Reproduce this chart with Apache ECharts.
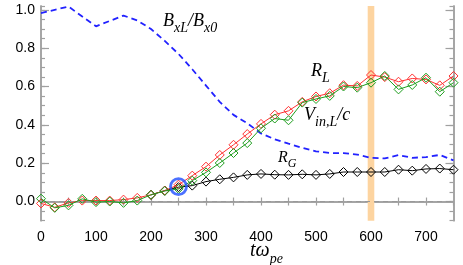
<!DOCTYPE html>
<html><head><meta charset="utf-8">
<script src="https://cdn.jsdelivr.net/npm/echarts@6/dist/echarts.min.js"></script>
<style>html,body{margin:0;padding:0;background:#fff}#c{width:463px;height:265px}</style>
</head><body><div id="c"></div>
<script>
// ---- data ----
const times = [0,25,50,75,100,125,150,175,200,225,250,275,300,325,350,375,400,425,450,475,500,525,550,575,600,625,650,675,700,725,750];
const rL  = [-0.01,-0.03,-0.007,0.005,0.005,0.005,0.01,0.019,0.035,0.057,0.088,0.135,0.182,0.243,0.296,0.352,0.405,0.453,0.473,0.52,0.548,0.565,0.607,0.603,0.66,0.649,0.625,0.642,0.637,0.606,0.655];
const vIn = [0.015,-0.033,-0.02,0.014,-0.003,0.0,-0.007,0.005,0.035,0.055,0.066,0.109,0.152,0.201,0.253,0.305,0.382,0.433,0.424,0.516,0.535,0.551,0.6,0.594,0.62,0.655,0.585,0.608,0.646,0.573,0.62];
const rGTimes = [200,225,250,275,300,325,350,375,400,425,450,475,500,525,550,575,600,625,650,675,700,725,750];
const rG  = [0.035,0.057,0.075,0.083,0.104,0.116,0.126,0.139,0.144,0.14,0.139,0.142,0.139,0.144,0.154,0.154,0.154,0.154,0.166,0.161,0.17,0.172,0.166];
const bx  = [0.983,1.0,1.017,0.965,0.914,0.942,0.97,0.945,0.9,0.838,0.77,0.69,0.605,0.52,0.452,0.408,0.355,0.325,0.302,0.28,0.262,0.253,0.253,0.245,0.228,0.225,0.242,0.228,0.232,0.243,0.215];
const circlePoint = [250, 0.078];
const band = [594, 606];
const yMajorTicks = [0, 0.2, 0.4, 0.6, 0.8, 1.0];
const xRange = [0, 750];
const yRange = [-0.1, 1.02];

const pair = (xs, ys) => xs.map((x, i) => [x, ys[i]]);

const GRAY = '#a0a0a0';
const tickFont = "'Liberation Sans Narrow','Arial Narrow','Liberation Sans',sans-serif";
const serif = "'Liberation Serif','DejaVu Serif',serif";

function yAx(pos, showLabel, major) {
  const a = {
    type: 'value', position: pos, min: yRange[0], max: yRange[1],
    axisLine: { show: true, lineStyle: { color: GRAY, width: 1.5 } },
    splitLine: { show: false },
    axisTick: { inside: true, length: 4, lineStyle: { color: GRAY, width: 1.2 } },
    axisLabel: { show: false }
  };
  if (major) {
    a.axisTick = { inside: true, length: 8, customValues: yMajorTicks, lineStyle: { color: GRAY, width: 1.2 } };
    a.axisLabel = showLabel ? { show: true, customValues: yMajorTicks, color: '#000', fontFamily: tickFont, fontSize: 14, margin: 6,
      formatter: v => v.toFixed(1) } : { show: false };
  } else {
    a.interval = 0.05;
  }
  return a;
}
function xAx(pos, showLabel) {
  return {
    type: 'value', position: pos, min: xRange[0], max: xRange[1], interval: 50,
    axisLine: { show: true, lineStyle: { color: GRAY, width: 1.5 } },
    splitLine: { show: false },
    axisTick: { inside: true, length: 4, lineStyle: { color: GRAY, width: 1.2 } },
    axisLabel: showLabel ? { show: true, color: '#000', fontFamily: tickFont, fontSize: 14, margin: 9,
      showMaxLabel: false,
      formatter: v => (Math.round(v) % 100 === 0 ? String(Math.round(v)) : '') } : { show: false }
  };
}

function drop(S, s) { return Math.round(0.25 * S - 0.2 * (S - s)) + 1; }
function rich(color, S, s) {
  const d = drop(S, s);
  return {
    m: { fontFamily: serif, fontStyle: 'italic', fontSize: S, color: color, verticalAlign: 'bottom', lineHeight: S, padding: [0, 0, d, 0] },
    s: { fontFamily: serif, fontStyle: 'italic', fontSize: s, color: color, verticalAlign: 'bottom', lineHeight: s }
  };
}
function label(x, yCenter, text, color, S, s) {
  return { type: 'text', left: x, top: yCenter - S / 2, z: 100, style: { text: text, rich: rich(color, S, s) } };
}

const chart = echarts.init(document.getElementById('c'), null, { renderer: 'canvas' });
chart.setOption({
  animation: false,
  backgroundColor: '#fff',
  grid: { left: 41, right: 9.5, top: 6, bottom: 44.3, containLabel: false },
  xAxis: [xAx('bottom', true), xAx('top', false)],
  yAxis: [yAx('left', true, true), yAx('left', false, false), yAx('right', false, true), yAx('right', false, false)],
  series: [
    {
      name: 'Bx', type: 'line', data: pair(times, bx), showSymbol: false, symbol: 'none',
      lineStyle: { color: '#2222ff', width: 1.8, type: [6, 4] }, z: 2,
      markArea: { silent: true, itemStyle: { color: '#fdd4a0' }, data: [[{ xAxis: band[0] }, { xAxis: band[1] }]] },
      markLine: { silent: true, symbol: 'none', label: { show: false },
        lineStyle: { color: '#999', type: [5, 4], width: 1 }, data: [{ yAxis: 0 }] }
    },
    {
      name: 'RG', type: 'line', data: pair(rGTimes, rG), symbol: 'diamond', symbolSize: 9,
      lineStyle: { color: '#000', width: 1 }, itemStyle: { color: 'rgba(0,0,0,0)', borderColor: '#000', borderWidth: 1 }, z: 3
    },
    {
      name: 'RL', type: 'line', data: pair(times, rL), symbol: 'diamond', symbolSize: 9,
      lineStyle: { color: '#ff3030', width: 1 }, itemStyle: { color: 'rgba(0,0,0,0)', borderColor: '#ff3030', borderWidth: 1 }, z: 4
    },
    {
      name: 'Vin', type: 'line', data: pair(times, vIn), symbol: 'diamond', symbolSize: 9,
      lineStyle: { color: '#1e9e1e', width: 1 }, itemStyle: { color: 'rgba(0,0,0,0)', borderColor: '#1e9e1e', borderWidth: 1 }, z: 5
    },
    {
      name: 'circle', type: 'scatter', data: [circlePoint], symbol: 'circle', symbolSize: 16,
      itemStyle: { color: 'rgba(0,0,0,0)', borderColor: '#1f4dff', borderWidth: 2.8 }, z: 6
    }
  ],
  graphic: [
    label(163, 21.5, '{m|B}{s|xL}{m|/B}{s|x0}', '#2222ff', 18, 14),
    label(311, 71.5, '{m|R}{s|L}', '#ff3030', 18, 14),
    label(304, 115.5, '{m|V}{s|in,L}{m|/c}', '#1e9e1e', 18, 14),
    label(278, 158, '{m|R}{s|G}', '#000', 16, 12),
    label(250, 251, '{m|tω}{s|pe}', '#000', 20, 14)
  ]
});
</script></body></html>
